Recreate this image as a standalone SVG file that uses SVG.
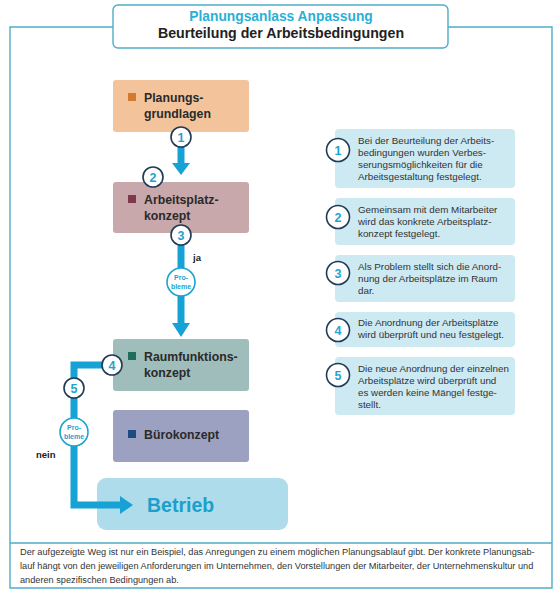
<svg xmlns="http://www.w3.org/2000/svg" width="557" height="594" viewBox="0 0 557 594">
<defs>
<style>
.frame{fill:none;stroke:#4fadc9;stroke-width:1.4}
.nt{font-family:"Liberation Sans",Arial,sans-serif;font-weight:bold;font-size:12.3px;fill:#2a2a2a}
.it{font-family:"Liberation Sans",Arial,sans-serif;font-size:9.8px;fill:#333}
.ft{font-family:"Liberation Sans",Arial,sans-serif;font-size:9.2px;fill:#333}
.info{fill:#cde9f2}
.nc{fill:#fff;stroke:#1f3b55;stroke-width:1.6}
.num{font-family:"Liberation Sans",Arial,sans-serif;font-weight:bold;font-size:12.5px;fill:#1ea3cf;text-anchor:middle}
.pc{fill:#fff;stroke:#1ea3cf;stroke-width:1.6}
.pt{font-family:"Liberation Sans",Arial,sans-serif;font-weight:bold;font-size:7px;fill:#1ea3cf;text-anchor:middle}
.flow{fill:none;stroke:#16a2d4;stroke-width:7}
.head{fill:#16a2d4}
</style>
</defs>
<rect width="557" height="594" fill="#fff"/>
<g id="frame">
<path class="frame" d="M113,27 H10 V588 H552 V27 H448"/>
<line class="frame" x1="10" y1="543" x2="552" y2="543"/>
</g>
<g id="title">
<rect x="113" y="5" width="335" height="43" rx="5" fill="#fff" stroke="#4fadc9" stroke-width="1.4"/>
<text x="281" y="21" text-anchor="middle" font-family="Liberation Sans,Arial,sans-serif" font-weight="bold" font-size="13.8" fill="#2ab0d6">Planungsanlass Anpassung</text>
<text x="281" y="38" text-anchor="middle" font-family="Liberation Sans,Arial,sans-serif" font-weight="bold" font-size="14.2" fill="#222">Beurteilung der Arbeitsbedingungen</text>
</g>
<g id="n-planungsgrundlagen">
<rect x="113" y="80" width="136" height="52" rx="3" fill="#f3c49c"/>
<rect x="128" y="93" width="8" height="8" fill="#d6782c"/>
<text class="nt" x="144" y="102">Planungs-</text>
<text class="nt" x="144" y="118">grundlagen</text>
</g>
<g id="n-arbeitsplatzkonzept">
<rect x="113" y="182" width="136" height="51" rx="3" fill="#c8a8aa"/>
<rect x="128" y="195" width="8" height="8" fill="#7c3a4c"/>
<text class="nt" x="144" y="204">Arbeitsplatz-</text>
<text class="nt" x="144" y="220">konzept</text>
</g>
<g id="n-raumfunktionskonzept">
<rect x="113" y="339" width="136" height="52" rx="3" fill="#9ebdbb"/>
<rect x="128" y="352" width="8" height="8" fill="#1e6e5e"/>
<text class="nt" x="144" y="361">Raumfunktions-</text>
<text class="nt" x="144" y="377">konzept</text>
</g>
<g id="n-buerokonzept">
<rect x="113" y="410" width="136" height="52" rx="3" fill="#9da1c1"/>
<rect x="128" y="430" width="8" height="8" fill="#1e4a82"/>
<text class="nt" x="144" y="439">Bürokonzept</text>
</g>
<g id="n-betrieb">
<rect x="97" y="478" width="191" height="52" rx="9" fill="#afdcea"/>
<text x="147" y="512" font-family="Liberation Sans,Arial,sans-serif" font-weight="bold" font-size="19.5" fill="#1b9fcc">Betrieb</text>
</g>
<g id="connectors">
<line class="flow" x1="181" y1="132" x2="181" y2="165"/>
<polygon class="head" points="172,163 190,163 181,175"/>
<line class="flow" x1="181" y1="233" x2="181" y2="325"/>
<polygon class="head" points="172,323 190,323 181,337"/>
<polyline class="flow" points="112,365 74,365 74,505 122,505"/>
<polygon class="head" points="120,496 120,514 133,505"/>
<text x="193" y="261" font-family="Liberation Sans,Arial,sans-serif" font-weight="bold" font-size="9.5" fill="#222">ja</text>
<text x="36" y="458" font-family="Liberation Sans,Arial,sans-serif" font-weight="bold" font-size="9.5" fill="#222">nein</text>
<circle class="nc" cx="181" cy="137" r="10"/><text class="num" x="181" y="141.5">1</text>
<circle class="nc" cx="153" cy="177" r="10"/><text class="num" x="153" y="181.5">2</text>
<circle class="nc" cx="181" cy="235" r="10"/><text class="num" x="181" y="239.5">3</text>
<circle class="nc" cx="112" cy="365" r="10"/><text class="num" x="112" y="369.5">4</text>
<circle class="nc" cx="74" cy="388" r="10"/><text class="num" x="74" y="392.5">5</text>
<circle class="pc" cx="181" cy="282" r="14"/>
<text class="pt" x="181" y="280">Pro-</text><text class="pt" x="181" y="288.5">bleme</text>
<circle class="pc" cx="74" cy="432" r="14"/>
<text class="pt" x="74" y="430">Pro-</text><text class="pt" x="74" y="438.5">bleme</text>
</g>
<g id="info-1">
<rect class="info" x="335" y="129" width="180" height="59" rx="4"/>
<circle class="nc" cx="338" cy="150" r="11.5"/><text class="num" x="338" y="154.5">1</text>
<text class="it" x="358" y="144">Bei der Beurteilung der Arbeits-</text>
<text class="it" x="358" y="156">bedingungen wurden Verbes-</text>
<text class="it" x="358" y="168">serungsmöglichkeiten für die</text>
<text class="it" x="358" y="180">Arbeitsgestaltung festgelegt.</text>
</g>
<g id="info-2">
<rect class="info" x="335" y="198" width="180" height="47" rx="4"/>
<circle class="nc" cx="338" cy="217" r="11.5"/><text class="num" x="338" y="221.5">2</text>
<text class="it" x="358" y="213">Gemeinsam mit dem Mitarbeiter</text>
<text class="it" x="358" y="225">wird das konkrete Arbeitsplatz-</text>
<text class="it" x="358" y="237">konzept festgelegt.</text>
</g>
<g id="info-3">
<rect class="info" x="335" y="255" width="180" height="47" rx="4"/>
<circle class="nc" cx="338" cy="273" r="11.5"/><text class="num" x="338" y="277.5">3</text>
<text class="it" x="358" y="270">Als Problem stellt sich die Anord-</text>
<text class="it" x="358" y="282">nung der Arbeitsplätze im Raum</text>
<text class="it" x="358" y="294">dar.</text>
</g>
<g id="info-4">
<rect class="info" x="335" y="312" width="180" height="35" rx="4"/>
<circle class="nc" cx="338" cy="330" r="11.5"/><text class="num" x="338" y="334.5">4</text>
<text class="it" x="358" y="326">Die Anordnung der Arbeitsplätze</text>
<text class="it" x="358" y="338">wird überprüft und neu festgelegt.</text>
</g>
<g id="info-5">
<rect class="info" x="335" y="357" width="180" height="58" rx="4"/>
<circle class="nc" cx="338" cy="375" r="11.5"/><text class="num" x="338" y="379.5">5</text>
<text class="it" x="358" y="372">Die neue Anordnung der einzelnen</text>
<text class="it" x="358" y="384">Arbeitsplätze wird überprüft und</text>
<text class="it" x="358" y="396">es werden keine Mängel festge-</text>
<text class="it" x="358" y="408">stellt.</text>
</g>
<g id="footer">
<text class="ft" x="20" y="555">Der aufgezeigte Weg ist nur ein Beispiel, das Anregungen zu einem möglichen Planungsablauf gibt. Der konkrete Planungsab-</text>
<text class="ft" x="20" y="569">lauf hängt von den jeweiligen Anforderungen im Unternehmen, den Vorstellungen der Mitarbeiter, der Unternehmenskultur und</text>
<text class="ft" x="20" y="583">anderen spezifischen Bedingungen ab.</text>
</g>
</svg>
